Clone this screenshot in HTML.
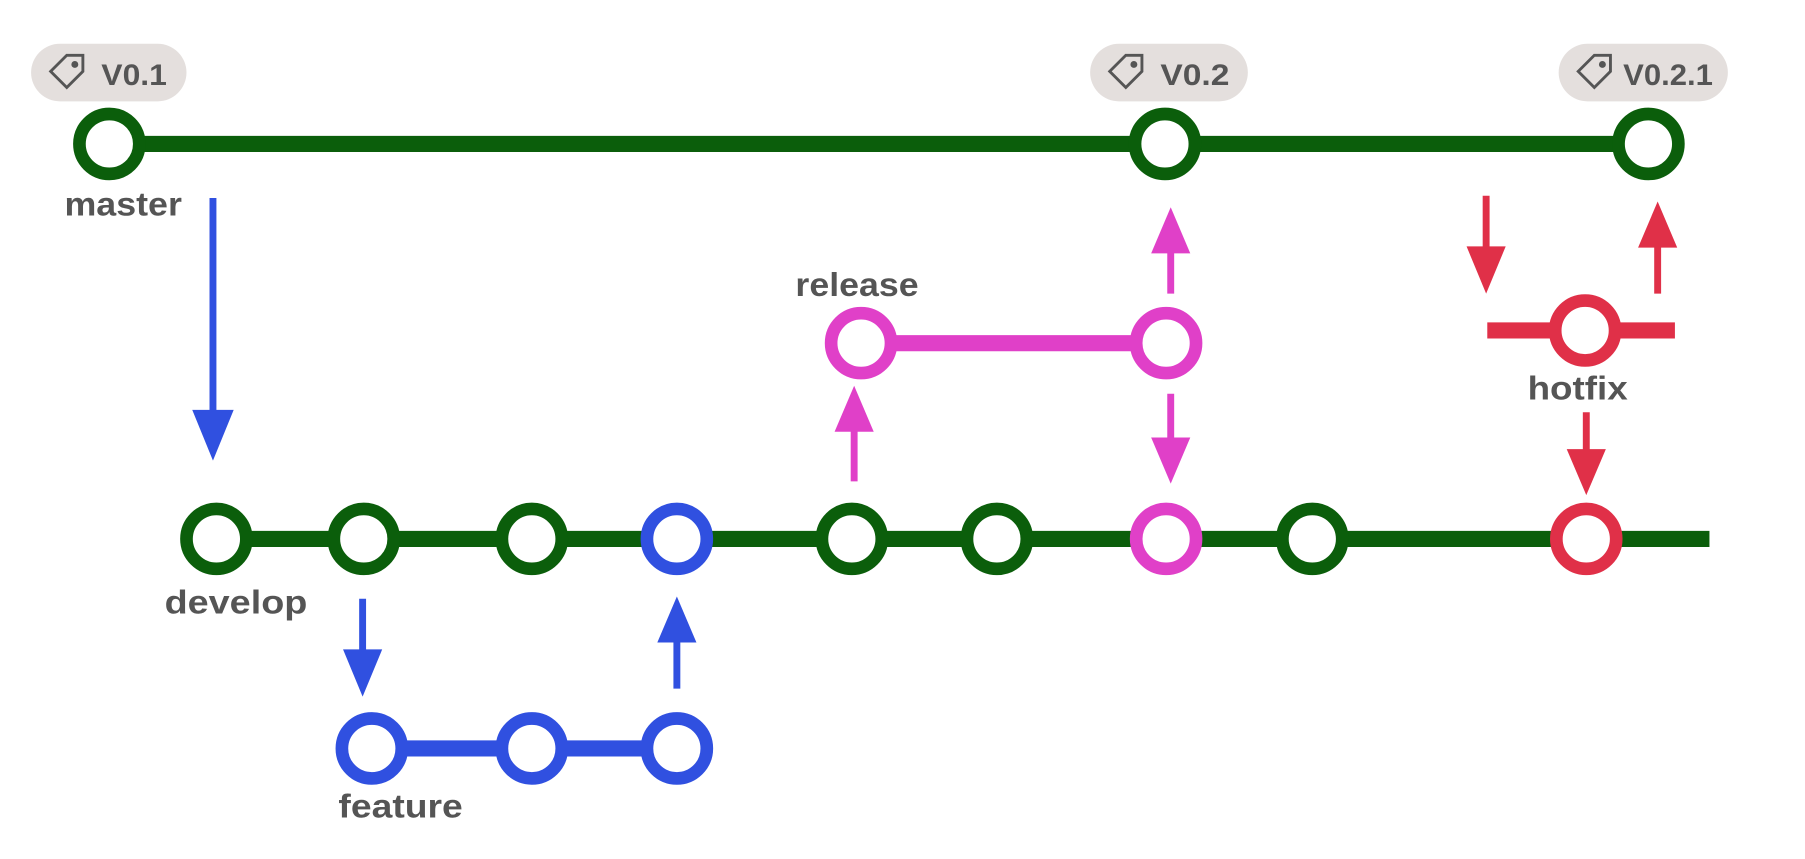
<!DOCTYPE html>
<html><head><style>html,body{margin:0;padding:0;background:#fff;}svg{display:block}</style></head><body>
<svg width="1805" height="859" viewBox="0 0 1568 746" preserveAspectRatio="none" xmlns="http://www.w3.org/2000/svg">
<g font-family="Liberation Sans, sans-serif" font-weight="bold" font-size="29" fill="#555">
<rect x="27" y="38" width="135" height="50" rx="25" fill="#e4dfdd"/>
<rect x="947" y="38" width="137" height="50" rx="25" fill="#e4dfdd"/>
<rect x="1354" y="38" width="147" height="50" rx="25" fill="#e4dfdd"/>
<text x="88" y="74" font-size="26" textLength="57" lengthAdjust="spacingAndGlyphs">V0.1</text>
<text x="1008" y="74" font-size="26" textLength="60" lengthAdjust="spacingAndGlyphs">V0.2</text>
<text x="1410" y="74" font-size="26" textLength="78" lengthAdjust="spacingAndGlyphs">V0.2.1</text>
<g fill="none" stroke="#555" stroke-width="2.5">
<path d="M44 62 l14 -14 h14 v14 l-14 14 z"/><path d="M964 62 l14 -14 h14 v14 l-14 14 z"/><path d="M1371 62 l14 -14 h14 v14 l-14 14 z"/>
</g>
<circle cx="65" cy="56" r="3" fill="#555"/><circle cx="985" cy="56" r="3" fill="#555"/><circle cx="1392" cy="56" r="3" fill="#555"/>
<text x="56" y="187" textLength="102" lengthAdjust="spacingAndGlyphs">master</text>
<text x="143" y="533" textLength="124" lengthAdjust="spacingAndGlyphs">develop</text>
<text x="294" y="710" textLength="108" lengthAdjust="spacingAndGlyphs">feature</text>
<text x="691" y="257" textLength="107" lengthAdjust="spacingAndGlyphs">release</text>
<text x="1327" y="347" textLength="87" lengthAdjust="spacingAndGlyphs">hotfix</text>
</g>
<g stroke-width="14" fill="none">
<line x1="95" y1="125" x2="1432" y2="125" stroke="#0b5e0b"/>
<line x1="188" y1="468" x2="1485" y2="468" stroke="#0b5e0b"/>
<line x1="323" y1="650" x2="588" y2="650" stroke="#3050e0"/>
<line x1="748" y1="298" x2="1013" y2="298" stroke="#e040c8"/>
<line x1="1292" y1="287" x2="1455" y2="287" stroke="#e03048"/>
</g>
<g fill="#fff" stroke-width="11">
<g stroke="#0b5e0b">
<circle cx="95" cy="125" r="26"/><circle cx="1012" cy="125" r="26"/><circle cx="1432" cy="125" r="26"/>
<circle cx="188" cy="468" r="26"/><circle cx="316" cy="468" r="26"/><circle cx="462" cy="468" r="26"/>
<circle cx="740" cy="468" r="26"/><circle cx="866" cy="468" r="26"/><circle cx="1140" cy="468" r="26"/>
</g>
<g stroke="#3050e0"><circle cx="588" cy="468" r="26"/><circle cx="323" cy="650" r="26"/><circle cx="462" cy="650" r="26"/><circle cx="588" cy="650" r="26"/></g>
<g stroke="#e040c8"><circle cx="1013" cy="468" r="26"/><circle cx="748" cy="298" r="26"/><circle cx="1013" cy="298" r="26"/></g>
<g stroke="#e03048"><circle cx="1378" cy="468" r="26"/><circle cx="1377" cy="287" r="26"/></g>
</g>
<g stroke-width="6">
<line x1="185" y1="172" x2="185" y2="360" stroke="#3050e0"/><polygon points="167,356 203,356 185,400" fill="#3050e0"/>
<line x1="315" y1="520" x2="315" y2="568" stroke="#3050e0"/><polygon points="298,564 332,564 315,605" fill="#3050e0"/>
<line x1="588" y1="598" x2="588" y2="555" stroke="#3050e0"/><polygon points="571,558 605,558 588,518" fill="#3050e0"/>
<line x1="742" y1="418" x2="742" y2="372" stroke="#e040c8"/><polygon points="725,375 759,375 742,335" fill="#e040c8"/>
<line x1="1017" y1="255" x2="1017" y2="216" stroke="#e040c8"/><polygon points="1000,220 1034,220 1017,180" fill="#e040c8"/>
<line x1="1017" y1="342" x2="1017" y2="384" stroke="#e040c8"/><polygon points="1000,380 1034,380 1017,420" fill="#e040c8"/>
<line x1="1291" y1="170" x2="1291" y2="218" stroke="#e03048"/><polygon points="1274,214 1308,214 1291,255" fill="#e03048"/>
<line x1="1440" y1="255" x2="1440" y2="212" stroke="#e03048"/><polygon points="1423,215 1457,215 1440,175" fill="#e03048"/>
<line x1="1378" y1="358" x2="1378" y2="394" stroke="#e03048"/><polygon points="1361,390 1395,390 1378,430" fill="#e03048"/>
</g>
</svg>
</body></html>
